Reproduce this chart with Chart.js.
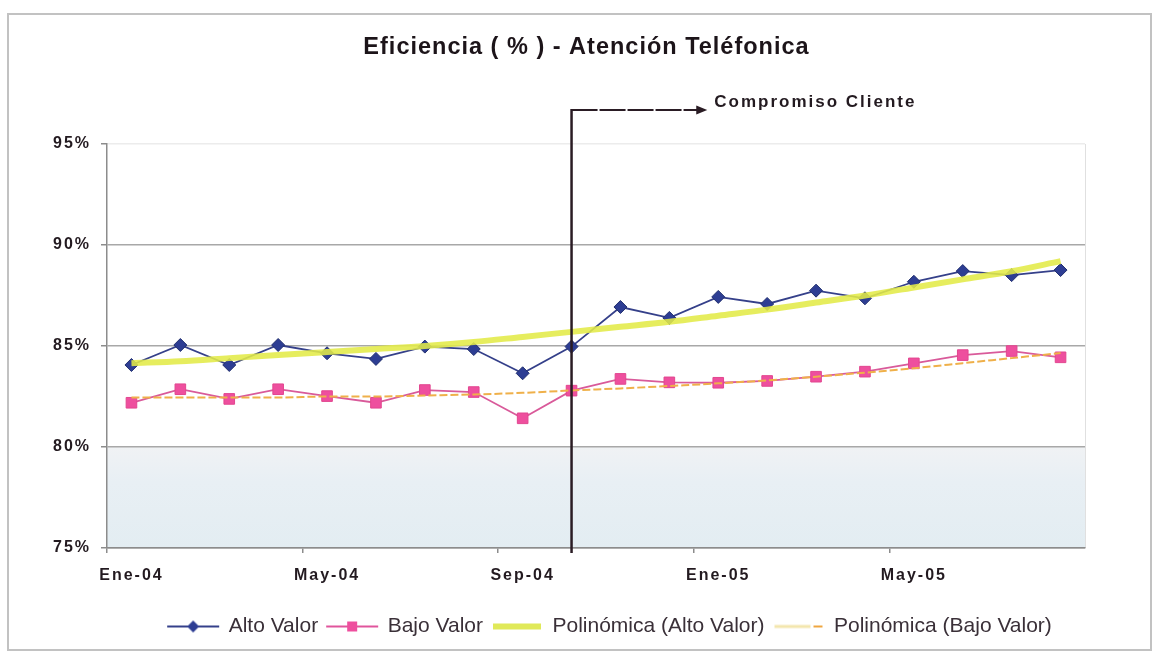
<!DOCTYPE html>
<html lang="es">
<head>
<meta charset="utf-8">
<title>Eficiencia ( % ) - Atención Teléfonica</title>
<script src="https://cdn.jsdelivr.net/npm/chart.js@4.4.1/dist/chart.umd.min.js"></script>
<style>
  html, body { margin: 0; padding: 0; background: #ffffff; }
  canvas { display: block; }
</style>
</head>
<body>
<canvas id="grafico" width="1152" height="653"></canvas>
<script>
// Meses del periodo
const meses = ['Ene-04', 'Feb-04', 'Mar-04', 'Abr-04', 'May-04', 'Jun-04', 'Jul-04', 'Ago-04',
               'Sep-04', 'Oct-04', 'Nov-04', 'Dic-04', 'Ene-05', 'Feb-05', 'Mar-05', 'Abr-05',
               'May-05', 'Jun-05', 'Jul-05', 'Ago-05'];

// Eficiencia mensual (%)
const altoValor = [84.06, 85.05, 84.06, 85.05, 84.64, 84.36, 84.97, 84.85, 83.65, 84.97,
                   86.93, 86.39, 87.43, 87.08, 87.74, 87.36, 88.18, 88.71, 88.51, 88.76];
const bajoValor = [82.19, 82.86, 82.38, 82.86, 82.52, 82.19, 82.82, 82.72, 81.42, 82.79,
                   83.37, 83.20, 83.18, 83.27, 83.48, 83.73, 84.14, 84.55, 84.75, 84.44];

// Líneas de tendencia polinómica
const tendenciaAlto = [84.15, 84.25, 84.40, 84.55, 84.70, 84.85, 85.00, 85.20, 85.45, 85.70,
                       85.95, 86.20, 86.50, 86.80, 87.15, 87.50, 87.90, 88.30, 88.70, 89.20];
const tendenciaBajo = [82.45, 82.45, 82.45, 82.45, 82.50, 82.50, 82.55, 82.60, 82.68, 82.80,
                       82.90, 83.02, 83.15, 83.30, 83.48, 83.68, 83.90, 84.15, 84.40, 84.65];

// Eje vertical (%)
const marcasY = [75, 80, 85, 90, 95];

// Textos
const titulo = 'Eficiencia ( % ) - Atención Teléfonica';
const nombresSeries = ['Alto Valor', 'Bajo Valor', 'Polinómica (Alto Valor)', 'Polinómica (Bajo Valor)'];
const textoCompromiso = 'Compromiso Cliente';
const mesCompromiso = 'Oct-04';
const mesTextoCompromiso = 'Ene-05';

const FUENTE = "'Liberation Sans', Arial, Helvetica, sans-serif";
const COLOR_TEXTO = '#231a20';

// Iconos de la leyenda: línea + marcador
function icono(dibujar) {
  const c = document.createElement('canvas');
  c.width = 56; c.height = 16;
  dibujar(c.getContext('2d'));
  return c;
}
const iconosLeyenda = [
  icono(g => {
    g.strokeStyle = '#35408a'; g.lineWidth = 1.8;
    g.beginPath(); g.moveTo(2, 8); g.lineTo(54, 8); g.stroke();
    g.fillStyle = '#2d3d93';
    g.beginPath(); g.moveTo(28, 2); g.lineTo(34, 8); g.lineTo(28, 14); g.lineTo(22, 8); g.closePath(); g.fill();
  }),
  icono(g => {
    g.strokeStyle = '#e0559c'; g.lineWidth = 1.8;
    g.beginPath(); g.moveTo(2, 8); g.lineTo(54, 8); g.stroke();
    g.fillStyle = '#ee4f9e';
    g.fillRect(23, 3, 10, 10);
  }),
  icono(g => {
    g.strokeStyle = 'rgba(222,232,80,0.95)'; g.lineWidth = 6;
    g.beginPath(); g.moveTo(4, 8); g.lineTo(52, 8); g.stroke();
  }),
  icono(g => {
    g.strokeStyle = '#f3e6ad'; g.lineWidth = 3;
    g.beginPath(); g.moveTo(4, 8); g.lineTo(40, 8); g.stroke();
    g.strokeStyle = '#efa640'; g.lineWidth = 2;
    g.beginPath(); g.moveTo(43, 8); g.lineTo(52, 8); g.stroke();
  })
];

// Dibuja un método de un elemento con espaciado entre letras
function conEspaciado(obj, metodo, espacio) {
  if (!obj || obj['__esp_' + metodo]) return;
  const original = obj[metodo];
  obj[metodo] = function (...args) {
    const ctx = this.ctx || this.chart.ctx;
    ctx.save();
    ctx.letterSpacing = espacio;
    const r = original.apply(this, args);
    ctx.restore();
    return r;
  };
  obj['__esp_' + metodo] = true;
}

const decorado = {
  id: 'decorado',
  afterLayout(chart) {
    conEspaciado(chart.titleBlock, 'draw', '1px');
    conEspaciado(chart.scales.x, 'drawLabels', '2px');
    conEspaciado(chart.scales.y, 'drawLabels', '2px');
    if (chart.titleBlock) { chart.titleBlock.left += 44; chart.titleBlock.right += 44; }
    if (chart.legend) { chart.legend.left += 14; chart.legend.right += 14; }
  },
  beforeDraw(chart) {
    const ctx = chart.ctx, area = chart.chartArea, ys = chart.scales.y;
    ctx.save();
    ctx.fillStyle = '#ffffff';
    ctx.fillRect(0, 0, chart.width, chart.height);
    // marco exterior
    ctx.strokeStyle = '#c2c2c2'; ctx.lineWidth = 2;
    ctx.strokeRect(8, 14, chart.width - 9, chart.height - 17);
    // franja inferior del área de trazado
    const y80 = ys.getPixelForValue(marcasY[1]);
    const y75 = ys.getPixelForValue(marcasY[0]);
    const grad = ctx.createLinearGradient(0, y80, 0, y75);
    grad.addColorStop(0, '#f0f2f4');
    grad.addColorStop(0.35, '#e8eff4');
    grad.addColorStop(1, '#e3edf2');
    ctx.fillStyle = grad;
    ctx.fillRect(area.left, y80, area.right - area.left, y75 - y80);
    // borde derecho tenue
    ctx.strokeStyle = '#e0e0e0'; ctx.lineWidth = 1;
    ctx.beginPath(); ctx.moveTo(area.right + 0.5, area.top); ctx.lineTo(area.right + 0.5, area.bottom); ctx.stroke();
    ctx.restore();
  },
  afterDraw(chart) {
    const ctx = chart.ctx, area = chart.chartArea, xs = chart.scales.x;
    const xLinea = xs.getPixelForValue(meses.indexOf(mesCompromiso));
    const xTexto = xs.getPixelForValue(meses.indexOf(mesTextoCompromiso));
    const yFlecha = area.top - 34;
    const xPunta = xTexto - 11;
    ctx.save();
    ctx.strokeStyle = '#2a1c24'; ctx.fillStyle = '#2a1c24';
    // línea vertical
    ctx.lineWidth = 2.5;
    ctx.beginPath(); ctx.moveTo(xLinea, yFlecha - 1); ctx.lineTo(xLinea, area.bottom + 5); ctx.stroke();
    // flecha horizontal
    ctx.lineWidth = 2.2;
    ctx.setLineDash([26, 2]);
    ctx.beginPath(); ctx.moveTo(xLinea, yFlecha); ctx.lineTo(xPunta - 8, yFlecha); ctx.stroke();
    ctx.setLineDash([]);
    ctx.beginPath();
    ctx.moveTo(xPunta, yFlecha); ctx.lineTo(xPunta - 11, yFlecha - 4.5); ctx.lineTo(xPunta - 11, yFlecha + 4.5);
    ctx.closePath(); ctx.fill();
    // texto
    ctx.letterSpacing = '2px';
    ctx.font = 'bold 17px ' + FUENTE;
    ctx.fillStyle = COLOR_TEXTO;
    ctx.textAlign = 'left'; ctx.textBaseline = 'middle';
    ctx.fillText(textoCompromiso, xTexto - 4, yFlecha - 8);
    ctx.restore();
  }
};

new Chart(document.getElementById('grafico'), {
  type: 'line',
  data: {
    labels: meses,
    datasets: [
      {
        label: nombresSeries[0], data: altoValor, order: 2,
        borderColor: '#35408a', borderWidth: 1.8,
        pointStyle: 'rectRot', pointRadius: 6.5,
        pointBackgroundColor: '#2d3d93', pointBorderColor: '#22306f', pointBorderWidth: 1
      },
      {
        label: nombresSeries[1], data: bajoValor, order: 3,
        borderColor: '#d95a9a', borderWidth: 1.8,
        pointStyle: 'rect', pointRadius: 7.5,
        pointBackgroundColor: '#ee4f9e', pointBorderColor: '#e2468f', pointBorderWidth: 1
      },
      {
        label: nombresSeries[2], data: tendenciaAlto, order: 0,
        borderColor: 'rgba(226,234,72,0.88)', borderWidth: 6,
        pointRadius: 0, cubicInterpolationMode: 'monotone'
      },
      {
        label: nombresSeries[3], data: tendenciaBajo, order: 1,
        borderColor: '#efb04a', borderWidth: 2, borderDash: [8, 3],
        pointRadius: 0, cubicInterpolationMode: 'monotone'
      }
    ]
  },
  options: {
    responsive: false,
    animation: false,
    events: [],
    devicePixelRatio: 1,
    layout: { padding: { left: 0, right: 67, top: 0, bottom: 6 } },
    scales: {
      x: {
        offset: true,
        afterFit(scale) { scale.height = 59; },
        grid: {
          offset: true,
          drawOnChartArea: false,
          drawTicks: true,
          tickLength: 5,
          color: c => (c.index !== undefined && c.index % 4 === 0) ? '#8c8c8c' : 'rgba(0,0,0,0)',
          lineWidth: 1.5
        },
        border: { display: true, color: '#8c8c8c', width: 1.5 },
        ticks: {
          autoSkip: false,
          maxRotation: 0,
          padding: 13,
          color: COLOR_TEXTO,
          font: { family: FUENTE, size: 16, weight: 'bold' },
          callback(value, index) { return index % 4 === 0 ? this.getLabelForValue(value) : ''; }
        }
      },
      y: {
        min: marcasY[0],
        max: marcasY[marcasY.length - 1],
        afterFit(scale) { scale.width = 107; },
        afterBuildTicks(scale) { scale.ticks = marcasY.map(v => ({ value: v })); },
        grid: {
          color: c => (c.tick && c.tick.value === marcasY[marcasY.length - 1]) ? 'rgba(170,170,170,0.22)' : '#a8a8a8',
          lineWidth: 1.5,
          tickLength: 6,
          tickColor: '#8c8c8c'
        },
        border: { display: true, color: '#8c8c8c', width: 1.5 },
        ticks: {
          padding: 10,
          color: COLOR_TEXTO,
          font: { family: FUENTE, size: 16, weight: 'bold' },
          callback: v => v + '%'
        }
      }
    },
    plugins: {
      title: {
        display: true,
        text: titulo,
        color: '#1c1419',
        font: { family: FUENTE, size: 23.5, weight: 'bold' },
        padding: { top: 33.5, bottom: 82.3 }
      },
      legend: {
        position: 'bottom',
        fullSize: false,
        labels: {
          usePointStyle: true,
          pointStyleWidth: 50,
          padding: 9,
          color: '#3a3038',
          font: { family: FUENTE, size: 21 },
          sort: (a, b) => a.datasetIndex - b.datasetIndex,
          generateLabels(chart) {
            const items = Chart.defaults.plugins.legend.labels.generateLabels(chart);
            items.forEach(it => { it.pointStyle = iconosLeyenda[it.datasetIndex]; });
            return items;
          }
        }
      },
      tooltip: { enabled: false }
    }
  },
  plugins: [decorado]
});
</script>
</body>
</html>
